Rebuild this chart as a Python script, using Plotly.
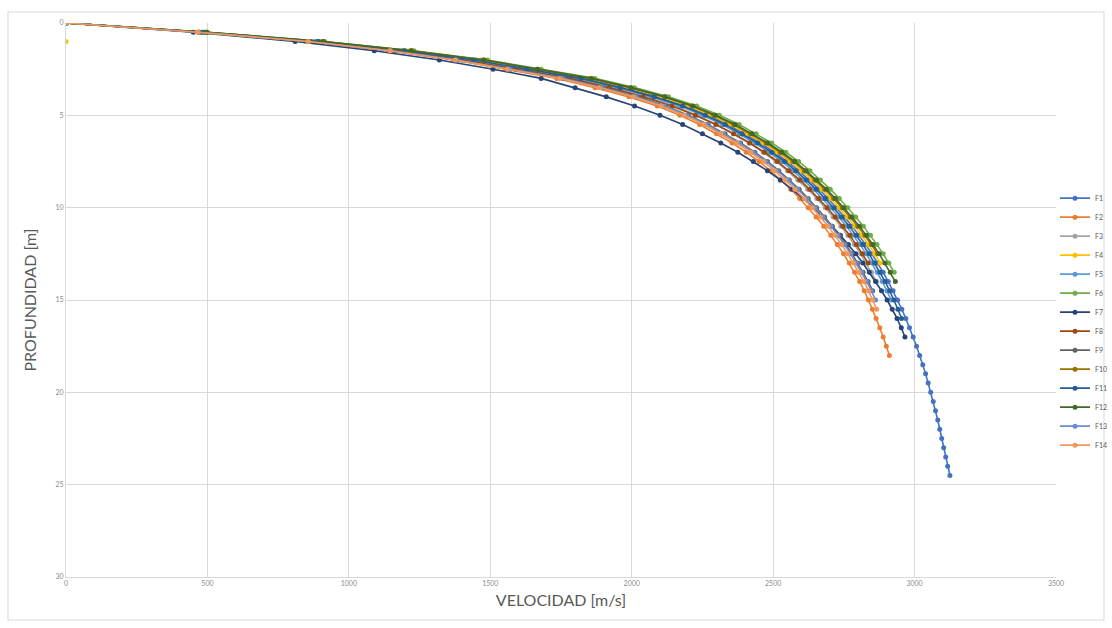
import plotly.graph_objects as go

DEPTH = [0.0, 0.5, 1.0, 1.5, 2.0, 2.5, 3.0, 3.5, 4.0, 4.5, 5.0, 5.5, 6.0, 6.5, 7.0, 7.5,
         8.0, 8.5, 9.0, 9.5, 10.0, 10.5, 11.0, 11.5, 12.0, 12.5, 13.0, 13.5, 14.0, 14.5,
         15.0, 15.5, 16.0, 16.5, 17.0, 17.5, 18.0, 18.5, 19.0, 19.5, 20.0, 20.5, 21.0,
         21.5, 22.0, 22.5, 23.0, 23.5, 24.0, 24.5]

F1 = [0, 490, 895, 1200, 1450, 1640, 1830, 1970, 2090, 2190, 2270, 2340, 2400, 2455, 2505,
      2550, 2590, 2627, 2662, 2694, 2724, 2752, 2779, 2804, 2827, 2849, 2870, 2889, 2907,
      2924, 2940, 2955, 2969, 2982, 2995, 3007, 3018, 3029, 3039, 3048, 3057, 3066, 3074,
      3082, 3089, 3096, 3103, 3110, 3117, 3125]
F2 = [0, 470, 850, 1140, 1370, 1555, 1735, 1870, 1990, 2090, 2170, 2240, 2300, 2355, 2405,
      2450, 2490, 2527, 2562, 2594, 2624, 2652, 2679, 2704, 2727, 2749, 2769, 2788, 2806,
      2822, 2837, 2851, 2864, 2877, 2889, 2900, 2911]
F3 = [0, 478, 875, 1172, 1410, 1600, 1790, 1930, 2050, 2150, 2230, 2300, 2360, 2415, 2465,
      2510, 2550, 2587, 2622, 2654, 2684, 2712, 2739, 2764, 2787, 2809, 2829, 2848, 2866]
F4 = [0, 495, 905, 1215, 1465, 1655, 1845, 1985, 2105, 2202, 2280, 2350, 2410, 2465, 2515,
      2560, 2600, 2637, 2672, 2704, 2734, 2762, 2789, 2814, 2837, 2859, 2879]
F4_EXTRA_V = [0]
F4_EXTRA_D = [1.0]
F5 = [0, 482, 885, 1188, 1430, 1620, 1810, 1950, 2070, 2170, 2250, 2320, 2380, 2435, 2485,
      2530, 2570, 2607, 2642, 2674, 2704, 2732, 2759, 2784, 2807, 2829, 2849, 2868, 2886,
      2902, 2917]
F6 = [0, 500, 915, 1230, 1490, 1680, 1870, 2010, 2130, 2230, 2310, 2380, 2440, 2495, 2545,
      2590, 2630, 2667, 2702, 2734, 2764, 2792, 2819, 2844, 2867, 2889, 2909, 2928]
F7 = [0, 450, 810, 1090, 1320, 1510, 1680, 1800, 1910, 2010, 2100, 2180, 2250, 2315, 2375,
      2430, 2480, 2525, 2567, 2606, 2642, 2676, 2708, 2738, 2766, 2792, 2817, 2840, 2862,
      2883, 2903, 2921, 2938, 2953, 2966]
F8 = [0, 472, 865, 1160, 1400, 1590, 1780, 1920, 2040, 2142, 2225, 2297, 2360, 2417, 2469,
      2515, 2556, 2594, 2629, 2661, 2691, 2719, 2746, 2771, 2794, 2816, 2836]
F9 = [0, 470, 860, 1150, 1385, 1572, 1760, 1900, 2020, 2120, 2200, 2270, 2330, 2385, 2435,
      2480, 2520, 2557, 2592, 2624, 2654, 2682, 2709, 2734, 2757, 2779, 2799, 2818, 2836, 2852]
F10 = [0, 498, 910, 1222, 1475, 1665, 1855, 1995, 2115, 2212, 2290, 2360, 2420, 2475, 2525,
       2570, 2610, 2647, 2682, 2714, 2744, 2772, 2799, 2824, 2847, 2869]
F11 = [0, 485, 890, 1195, 1440, 1630, 1820, 1960, 2080, 2180, 2260, 2330, 2390, 2445, 2495,
       2540, 2580, 2617, 2652, 2684, 2714, 2742, 2769, 2794, 2817, 2839, 2859, 2878, 2896,
       2912, 2927, 2941, 2954]
F12 = [0, 497, 908, 1220, 1478, 1668, 1858, 1998, 2118, 2217, 2296, 2366, 2426, 2481, 2531,
       2576, 2616, 2653, 2688, 2720, 2750, 2778, 2805, 2830, 2853, 2875, 2895, 2914, 2932]
F13 = [0, 468, 858, 1148, 1380, 1568, 1755, 1895, 2015, 2115, 2195, 2265, 2325, 2380, 2430,
       2475, 2515, 2552, 2587, 2619, 2649, 2677, 2704, 2729, 2752, 2774, 2794, 2813, 2831,
       2847, 2862]
F14 = [0, 466, 855, 1145, 1375, 1560, 1745, 1885, 2005, 2105, 2185, 2255, 2315, 2370, 2420,
       2465, 2505, 2542, 2577, 2609, 2639, 2667, 2694, 2719, 2742, 2764, 2784, 2803, 2821,
       2837, 2852, 2866]

SERIES_NAMES = ["F1", "F2", "F3", "F4", "F5", "F6", "F7", "F8", "F9", "F10", "F11", "F12", "F13", "F14"]
SERIES_VALUES = [F1, F2, F3, F4, F5, F6, F7, F8, F9, F10, F11, F12, F13, F14]
COLORS = ["#4472C4", "#ED7D31", "#A5A5A5", "#FFC000", "#5B9BD5", "#70AD47", "#264478",
          "#9E480E", "#636363", "#997300", "#255E91", "#43682B", "#698ED0", "#F1975A"]

X_TICKS = [0, 500, 1000, 1500, 2000, 2500, 3000, 3500]
Y_TICKS = [0, 5, 10, 15, 20, 25, 30]

fig = go.Figure()
for name, vals, col in zip(SERIES_NAMES, SERIES_VALUES, COLORS):
    x = list(vals)
    y = DEPTH[:len(vals)]
    if name == "F4":
        x = F4_EXTRA_V + [None] + x
        y = F4_EXTRA_D + [None] + list(y)
    fig.add_trace(go.Scatter(
        x=x, y=y, name=name, mode="lines+markers",
        line=dict(color=col, width=1.6),
        marker=dict(color=col, size=5, symbol="circle"),
        connectgaps=False,
    ))

grid = "#D9D9D9"
txt = "#595959"
fig.update_layout(
    width=1112, height=628,
    margin=dict(l=66, r=56, t=23, b=51, autoexpand=False),
    paper_bgcolor="white", plot_bgcolor="white",
    font=dict(family="Lato, Open Sans, sans-serif", color=txt, size=8),
    showlegend=True,
    legend=dict(
        x=0.999, y=0.71, xanchor="left", yanchor="top",
        font=dict(size=7, color=txt),
        itemwidth=30, tracegroupgap=0,
        bgcolor="rgba(0,0,0,0)",
    ),
    xaxis=dict(
        range=[0, 3500], tickvals=X_TICKS, ticktext=[str(v) for v in X_TICKS],
        showgrid=True, gridcolor=grid, gridwidth=1,
        zeroline=False, showline=True, linecolor=grid, linewidth=1,
        ticks="", tickfont=dict(size=7, color="#8c8c8c"),
        title=dict(text="VELOCIDAD [m/s]", font=dict(size=16, color=txt), standoff=8),
    ),
    yaxis=dict(
        range=[30, 0], tickvals=Y_TICKS, ticktext=[str(v) for v in Y_TICKS],
        showgrid=True, gridcolor=grid, gridwidth=1,
        zeroline=False, showline=True, linecolor=grid, linewidth=1,
        ticks="", tickfont=dict(size=7, color="#8c8c8c"),
        title=dict(text="PROFUNDIDAD [m]", font=dict(size=16, color=txt), standoff=14),
    ),
    shapes=[dict(type="rect", xref="paper", yref="paper",
                 x0=-0.0586, x1=1.0485, y0=-0.0776, y1=1.0199,
                 line=dict(color="#D9D9D9", width=1), fillcolor="rgba(0,0,0,0)", layer="below")],
)

fig.write_html("out.html")
